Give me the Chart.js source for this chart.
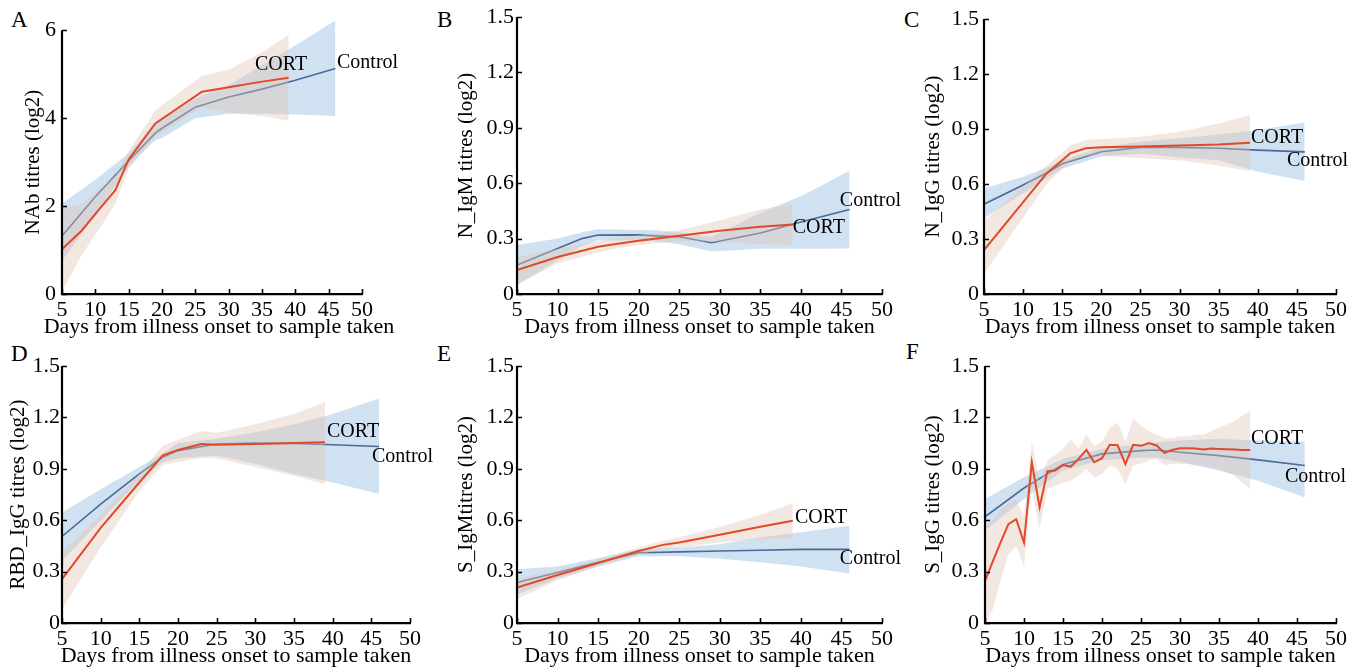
<!DOCTYPE html>
<html>
<head>
<meta charset="utf-8">
<title>Antibody titres, CORT vs Control</title>
<script src="https://cdn.jsdelivr.net/npm/chart.js"></script>
<style>
  body { margin: 0; background: #fff; width: 1362px; height: 668px; position: relative; overflow: hidden;
         font-family: "Liberation Serif", "Times New Roman", serif; }
  canvas { position: absolute; left: 0; top: 0; }
  .tag { position: absolute; font-size: 23px; line-height: 1; color: #000; }
</style>
</head>
<body>
<div class="tag" style="left:11px;top:8px">A</div>
<div class="tag" style="left:437px;top:8px">B</div>
<div class="tag" style="left:904px;top:8px">C</div>
<div class="tag" style="left:11px;top:342px">D</div>
<div class="tag" style="left:437px;top:342px">E</div>
<div class="tag" style="left:906px;top:340px">F</div>

<canvas id="pA" width="1362" height="668"></canvas>
<canvas id="pB" width="1362" height="668"></canvas>
<canvas id="pC" width="1362" height="668"></canvas>
<canvas id="pD" width="1362" height="668"></canvas>
<canvas id="pE" width="1362" height="668"></canvas>
<canvas id="pF" width="1362" height="668"></canvas>

<script>
// ---- data (days, fitted value, band low, band high) ----
// A: NAb
const aCtrlX  = [5, 10, 15, 19, 20, 25, 30, 35, 40, 46];
const aCtrlY  = [1.32, 2.21, 3.03, 3.66, 3.77, 4.25, 4.48, 4.66, 4.86, 5.13];
const aCtrlLo = [0.75, 1.8, 2.9, 3.5, 3.55, 4.0, 4.1, 4.1, 4.08, 4.05];
const aCtrlHi = [2.06, 2.6, 3.2, 3.9, 3.95, 4.45, 4.75, 5.2, 5.65, 6.22];
const aCortX  = [5, 8, 10.7, 13, 15, 19, 26, 30, 35, 39];
const aCortY  = [1.02, 1.45, 1.95, 2.36, 3.06, 3.88, 4.6, 4.7, 4.83, 4.92];
const aCortLo = [0.05, 0.9, 1.5, 2.05, 2.85, 3.58, 4.25, 4.12, 4.05, 3.94];
const aCortHi = [1.95, 2.05, 2.4, 2.7, 3.25, 4.18, 4.96, 5.1, 5.5, 5.89];

// B: N_IgM
const bCtrlX  = [5, 10, 13, 15, 20, 22, 25, 29, 35, 40, 46];
const bCtrlY  = [0.157, 0.247, 0.30, 0.319, 0.32, 0.315, 0.31, 0.278, 0.33, 0.39, 0.458];
const bCtrlLo = [0.05, 0.18, 0.26, 0.29, 0.29, 0.285, 0.27, 0.23, 0.245, 0.245, 0.247];
const bCtrlHi = [0.265, 0.30, 0.335, 0.35, 0.346, 0.345, 0.335, 0.31, 0.44, 0.53, 0.667];
const bCortX  = [5, 10, 15, 17, 20, 25, 30, 35, 39];
const bCortY  = [0.13, 0.20, 0.256, 0.27, 0.288, 0.315, 0.343, 0.364, 0.377];
const bCortLo = [0.05, 0.165, 0.225, 0.245, 0.265, 0.285, 0.283, 0.27, 0.265];
const bCortHi = [0.20, 0.245, 0.285, 0.30, 0.32, 0.345, 0.40, 0.458, 0.487];

// C: N_IgG
const cCtrlX  = [5, 10, 13, 15, 20, 25, 30, 35, 40, 46];
const cCtrlY  = [0.49, 0.595, 0.66, 0.71, 0.776, 0.80, 0.80, 0.795, 0.785, 0.775];
const cCtrlLo = [0.413, 0.55, 0.63, 0.685, 0.75, 0.765, 0.745, 0.73, 0.667, 0.618];
const cCtrlHi = [0.576, 0.64, 0.69, 0.73, 0.80, 0.83, 0.85, 0.87, 0.895, 0.935];
const cCortX  = [5, 13, 15, 16, 18, 20, 25, 30, 35, 39];
const cCortY  = [0.24, 0.658, 0.73, 0.767, 0.795, 0.80, 0.805, 0.81, 0.815, 0.825];
const cCortLo = [0.11, 0.60, 0.68, 0.72, 0.75, 0.755, 0.74, 0.73, 0.70, 0.67];
const cCortHi = [0.40, 0.70, 0.77, 0.81, 0.84, 0.845, 0.858, 0.885, 0.93, 0.976];

// D: RBD_IgG
const dCtrlX  = [5, 10, 15, 18, 20, 25, 30, 35, 40, 46];
const dCtrlY  = [0.505, 0.694, 0.87, 0.967, 1.006, 1.045, 1.05, 1.048, 1.04, 1.03];
const dCtrlLo = [0.363, 0.597, 0.83, 0.938, 0.96, 0.977, 0.93, 0.87, 0.82, 0.753];
const dCtrlHi = [0.645, 0.78, 0.91, 0.99, 1.05, 1.075, 1.114, 1.16, 1.22, 1.31];
const dCortX  = [5, 10, 15, 18, 20, 23, 25, 30, 35, 39];
const dCortY  = [0.256, 0.555, 0.82, 0.977, 1.01, 1.045, 1.04, 1.045, 1.05, 1.055];
const dCortLo = [0.08, 0.44, 0.77, 0.92, 0.94, 0.963, 0.96, 0.91, 0.86, 0.81];
const dCortHi = [0.42, 0.63, 0.87, 1.035, 1.07, 1.12, 1.11, 1.16, 1.22, 1.29];

// E: S_IgM
const eCtrlX  = [5, 10, 15, 20, 25, 30, 35, 40, 46];
const eCtrlY  = [0.236, 0.295, 0.355, 0.41, 0.415, 0.42, 0.425, 0.43, 0.43];
const eCtrlLo = [0.167, 0.26, 0.33, 0.39, 0.39, 0.375, 0.355, 0.33, 0.289];
const eCtrlHi = [0.314, 0.33, 0.38, 0.43, 0.44, 0.46, 0.50, 0.53, 0.568];
const eCortX  = [5, 10, 15, 20, 23, 25, 30, 35, 39];
const eCortY  = [0.207, 0.28, 0.35, 0.42, 0.456, 0.47, 0.515, 0.562, 0.597];
const eCortLo = [0.14, 0.25, 0.33, 0.40, 0.43, 0.44, 0.47, 0.49, 0.49];
const eCortHi = [0.26, 0.31, 0.37, 0.44, 0.48, 0.50, 0.56, 0.63, 0.70];

// F: S_IgG
const fCtrlX  = [5, 10, 15, 20, 25, 27, 30, 35, 40, 46];
const fCtrlY  = [0.62, 0.788, 0.925, 0.987, 1.006, 1.01, 0.997, 0.977, 0.952, 0.919];
const fCtrlLo = [0.54, 0.724, 0.89, 0.95, 0.965, 0.965, 0.94, 0.89, 0.83, 0.733];
const fCtrlHi = [0.724, 0.85, 0.958, 1.016, 1.045, 1.055, 1.065, 1.075, 1.065, 1.06];
const fCortX  = [5, 6, 7, 8, 9, 10, 11, 12, 13, 14, 15, 16, 17, 18, 19, 20, 21, 22,
                 23, 24, 25, 26, 27, 28, 29, 30, 31, 32, 33, 34, 35, 36, 37, 38, 39];
const fCortY  = [0.246, 0.36, 0.47, 0.577, 0.606, 0.47, 0.938, 0.675, 0.886, 0.89, 0.922, 0.913,
                 0.958, 1.01, 0.938, 0.962, 1.04, 1.037, 0.928, 1.04, 1.034, 1.05, 1.036, 0.993,
                 1.01, 1.02, 1.02, 1.018, 1.012, 1.018, 1.016, 1.014, 1.012, 1.01, 1.01];
const fCortLo = [0.0, 0.08, 0.25, 0.40, 0.45, 0.33, 0.80, 0.55, 0.78, 0.80, 0.82, 0.83,
                 0.86, 0.90, 0.85, 0.87, 0.92, 0.90, 0.81, 0.92, 0.93, 0.95, 0.96, 0.92,
                 0.93, 0.93, 0.93, 0.92, 0.92, 0.91, 0.90, 0.88, 0.86, 0.82, 0.78];
const fCortHi = [0.56, 0.60, 0.66, 0.70, 0.72, 0.62, 1.06, 0.82, 0.95, 0.98, 1.02, 1.07,
                 1.02, 1.10, 1.03, 1.06, 1.14, 1.17, 1.06, 1.19, 1.15, 1.12, 1.10, 1.08,
                 1.08, 1.09, 1.09, 1.10, 1.10, 1.12, 1.14, 1.16, 1.18, 1.21, 1.24];

const xTicks = [5, 10, 15, 20, 25, 30, 35, 40, 45, 50];
const xLabel = 'Days from illness onset to sample taken';

// ---- look ----
const FONT = '"Liberation Serif", "Times New Roman", serif';
const INK = '#000';
const TICK_SIZE = 22, XT_SIZE = 22, YT_SIZE = 21, NOTE_SIZE = 20;
const AXIS_W = 2.2;
const ctrlLine = '#4a6a98';
const cortLine = '#e04a28';
const ctrlBand = 'rgba(150, 190, 225, 0.45)';
const cortBand = 'rgba(225, 195, 180, 0.40)';

Chart.defaults.font.family = FONT;
Chart.defaults.font.size = TICK_SIZE;
Chart.defaults.color = INK;

function pts(xs, ys) {
  return xs.map((x, i) => ({ x: x, y: ys[i] }));
}

// y axis line (stops at the top tick), inward tick marks, axis captions
// and the CORT / Control tags next to the line ends
const innerMarks = {
  id: 'innerMarks',
  afterDraw(chart, args, opts) {
    const ctx = chart.ctx, xs = chart.scales.x, ys = chart.scales.y, a = chart.chartArea;
    const yTop = ys.getPixelForValue(ys.ticks[ys.ticks.length - 1].value);
    const yBot = ys.getPixelForValue(0);
    ctx.save();
    ctx.strokeStyle = INK;
    ctx.lineWidth = AXIS_W;
    ctx.beginPath();
    ctx.moveTo(a.left, a.bottom + AXIS_W / 2);
    ctx.lineTo(a.left, yTop);
    ctx.stroke();

    ctx.lineWidth = 1.6;
    ctx.beginPath();
    xs.ticks.forEach(t => {
      const p = Math.round(xs.getPixelForValue(t.value)) + 0.5;
      ctx.moveTo(p, a.bottom); ctx.lineTo(p, a.bottom - 5);
    });
    ys.ticks.forEach(t => {
      const p = Math.round(ys.getPixelForValue(t.value)) + 0.5;
      ctx.moveTo(a.left, p); ctx.lineTo(a.left + 5, p);
    });
    ctx.stroke();

    ctx.fillStyle = INK;
    ctx.textBaseline = 'middle';
    ctx.textAlign = 'center';
    ctx.font = XT_SIZE + 'px ' + FONT;
    const cx = opts.titleX != null ? opts.titleX : (a.left + a.right) / 2;
    ctx.fillText(xLabel, cx, opts.titleY);

    ctx.save();
    ctx.font = YT_SIZE + 'px ' + FONT;
    ctx.translate(opts.yTitleX, (yTop + yBot) / 2);
    ctx.rotate(-Math.PI / 2);
    ctx.fillText(opts.yLabel, 0, 0);
    ctx.restore();

    ctx.font = NOTE_SIZE + 'px ' + FONT;
    ctx.textAlign = 'left';
    (opts.notes || []).forEach(n => {
      ctx.fillText(n[0], xs.getPixelForValue(n[1]), ys.getPixelForValue(n[2]));
    });
    ctx.restore();
  }
};

function panel(id, p) {
  const xHalf = XT_SIZE * 0.6;
  const padLeft = p.yTitleX - YT_SIZE * 0.6;
  const padBottom = 668 - (p.xTitleY + xHalf);
  const band = { borderWidth: 0, pointRadius: 0 };
  const ds = [
    Object.assign({ data: pts(p.ctrlX, p.ctrlLo), fill: false, order: 4 }, band),
    Object.assign({ data: pts(p.ctrlX, p.ctrlHi), fill: '-1', backgroundColor: ctrlBand, order: 4 }, band),
    { data: pts(p.ctrlX, p.ctrlY), borderColor: ctrlLine, borderWidth: 1.6, pointRadius: 0, fill: false, order: 3 },
    Object.assign({ data: pts(p.cortX, p.cortLo), fill: false, order: 2 }, band),
    Object.assign({ data: pts(p.cortX, p.cortHi), fill: '-1', backgroundColor: cortBand, order: 2 }, band),
    { data: pts(p.cortX, p.cortY), borderColor: cortLine, borderWidth: 2, pointRadius: 0, fill: false, order: 1 }
  ];
  new Chart(document.getElementById(id), {
    type: 'line',
    data: { datasets: ds },
    options: {
      responsive: false,
      animation: false,
      events: [],
      layout: { padding: { left: padLeft, top: p.y0, right: 1362 - p.x1, bottom: padBottom } },
      plugins: {
        legend: { display: false },
        tooltip: { enabled: false },
        innerMarks: { notes: p.notes, titleX: p.xTitleX, titleY: p.xTitleY, yTitleX: p.yTitleX, yLabel: p.yLabel }
      },
      scales: {
        x: {
          type: 'linear', min: 5, max: 50,
          afterBuildTicks: s => { s.ticks = xTicks.map(v => ({ value: v })); },
          grid: { display: false, drawTicks: false, tickLength: 0 },
          border: { display: true, color: INK, width: AXIS_W },
          ticks: { padding: 3, color: INK, maxRotation: 0, autoSkip: false },
          title: { display: false },
          afterFit: s => { s.height = p.xTitleY + xHalf - p.y1; }
        },
        y: {
          min: 0, max: p.yMax,
          afterBuildTicks: s => { s.ticks = p.yTicks.map(v => ({ value: v })); },
          grid: { display: false, drawTicks: false, tickLength: 0 },
          border: { display: false },
          ticks: { padding: p.gap, color: INK, callback: p.fmt },
          title: { display: false },
          afterFit: s => { s.width = p.x0 - padLeft; }
        }
      }
    },
    plugins: [innerMarks]
  });
}

const tick15 = [0, 0.3, 0.6, 0.9, 1.2, 1.5];
const fmt15 = v => (v === 0 ? '0' : v.toFixed(1));

// panel A's scale runs a little past 6 so the Control band can poke above the top tick
panel('pA', {
  x0: 62, x1: 362, y0: 14, y1: 294, yTitleX: 33, xTitleX: 219, xTitleY: 327, gap: 6,
  yMax: 6.25, yTicks: [0, 2, 4, 6], fmt: v => String(v), yLabel: 'NAb titres (log2)',
  ctrlX: aCtrlX, ctrlY: aCtrlY, ctrlLo: aCtrlLo, ctrlHi: aCtrlHi,
  cortX: aCortX, cortY: aCortY, cortLo: aCortLo, cortHi: aCortHi,
  notes: [['CORT', 33.95, 5.22], ['Control', 46.25, 5.26]]
});
panel('pB', {
  x0: 517, x1: 882, y0: 17, y1: 294, yTitleX: 466, xTitleY: 327, gap: 3,
  yMax: 1.5, yTicks: tick15, fmt: fmt15, yLabel: 'N_IgM titres (log2)',
  ctrlX: bCtrlX, ctrlY: bCtrlY, ctrlLo: bCtrlLo, ctrlHi: bCtrlHi,
  cortX: bCortX, cortY: bCortY, cortLo: bCortLo, cortHi: bCortHi,
  notes: [['CORT', 39.0, 0.357], ['Control', 44.8, 0.504]]
});
panel('pC', {
  x0: 984, x1: 1336, y0: 19, y1: 294, yTitleX: 933, xTitleY: 327, gap: 5,
  yMax: 1.5, yTicks: tick15, fmt: fmt15, yLabel: 'N_IgG titres (log2)',
  ctrlX: cCtrlX, ctrlY: cCtrlY, ctrlLo: cCtrlLo, ctrlHi: cCtrlHi,
  cortX: cCortX, cortY: cCortY, cortLo: cCortLo, cortHi: cCortHi,
  notes: [['CORT', 39.13, 0.851], ['Control', 43.74, 0.726]]
});
panel('pD', {
  x0: 62, x1: 410, y0: 366, y1: 623, yTitleX: 18, xTitleY: 656, gap: 2,
  yMax: 1.5, yTicks: tick15, fmt: fmt15, yLabel: 'RBD_IgG titres (log2)',
  ctrlX: dCtrlX, ctrlY: dCtrlY, ctrlLo: dCtrlLo, ctrlHi: dCtrlHi,
  cortX: dCortX, cortY: dCortY, cortLo: dCortLo, cortHi: dCortHi,
  notes: [['CORT', 39.27, 1.115], ['Control', 45.09, 0.969]]
});
panel('pE', {
  x0: 517, x1: 882, y0: 366, y1: 623, yTitleX: 466, xTitleY: 656, gap: 3,
  yMax: 1.5, yTicks: tick15, fmt: fmt15, yLabel: 'S_IgMtitres (log2)',
  ctrlX: eCtrlX, ctrlY: eCtrlY, ctrlLo: eCtrlLo, ctrlHi: eCtrlHi,
  cortX: eCortX, cortY: eCortY, cortLo: eCortLo, cortHi: eCortHi,
  notes: [['CORT', 39.27, 0.613], ['Control', 44.8, 0.374]]
});
panel('pF', {
  x0: 985, x1: 1336, y0: 366, y1: 623, yTitleX: 933, xTitleY: 656, gap: 6,
  yMax: 1.5, yTicks: tick15, fmt: fmt15, yLabel: 'S_IgG titres (log2)',
  ctrlX: fCtrlX, ctrlY: fCtrlY, ctrlLo: fCtrlLo, ctrlHi: fCtrlHi,
  cortX: fCortX, cortY: fCortY, cortLo: fCortLo, cortHi: fCortHi,
  notes: [['CORT', 39.1, 1.074], ['Control', 43.46, 0.852]]
});
</script>
</body>
</html>
